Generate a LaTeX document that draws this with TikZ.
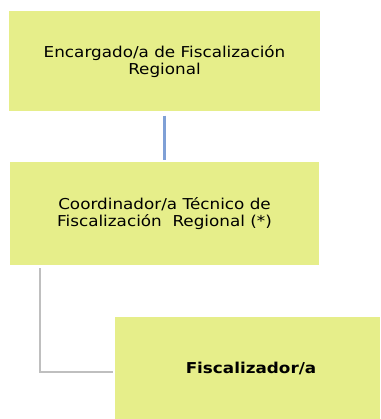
\documentclass[tikz,border=0pt]{standalone}
\usepackage{fontspec}
\setmainfont[FakeStretch=1.12]{DejaVu Sans}
\usepackage{xcolor}
\usetikzlibrary{positioning}
\definecolor{boxfill}{HTML}{E6EE8A}
\definecolor{linkblue}{HTML}{7FA0D6}
\definecolor{linkgray}{HTML}{BFBFBF}

\begin{document}
\begin{tikzpicture}[
    x=1pt, y=-1pt,
    role/.style={rectangle, fill=boxfill, inner sep=0pt, align=center, font=\fontsize{15}{17}\selectfont},
    bluelink/.style={linkblue, line width=3pt, shorten <=4pt, shorten >=2pt},
    graylink/.style={linkgray, line width=2pt}
]
    \useasboundingbox (0,0) rectangle (380,419);

    % Nodes
    \node[role, minimum width=311pt, minimum height=100pt] (enc) at (164.5, 61.5) {Encargado/a de Fiscalización\\Regional};
    \node[role, minimum width=309pt, minimum height=103pt] (coord) at (164.5, 213.5) {Coordinador/a Técnico de\\Fiscalización \ Regional (*)};
    \node[role, minimum width=265pt, minimum height=102pt, font=\fontsize{15}{17}\selectfont\bfseries] (fisc) at (247.5, 368) {\hspace*{7pt}Fiscalizador/a};
    \coordinate (corner) at (40, 265);

    % Connectors
    \draw[bluelink] (enc) -- (coord);
    \draw[graylink] ([yshift=-3pt]corner) |- ([xshift=-2pt, yshift=-4pt]fisc.west);

\end{tikzpicture}
\end{document}
